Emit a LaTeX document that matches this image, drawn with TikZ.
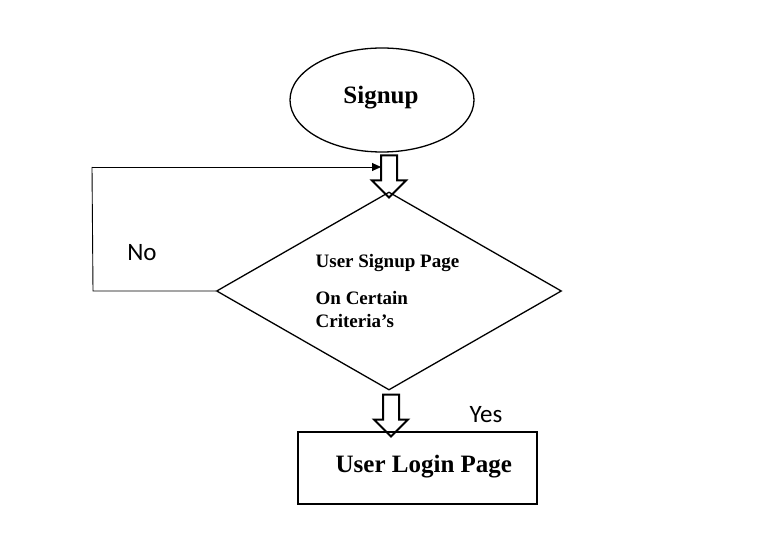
\documentclass[tikz,border=0pt]{standalone}
\usepackage{fontspec}
\setmainfont{Liberation Serif}
\newfontfamily\calibri{Carlito}
\usetikzlibrary{positioning,arrows.meta,shapes.geometric,shapes.arrows}

\begin{document}
\begin{tikzpicture}[
  x=1pt, y=-1pt,
  line width=1.3pt,
  start/.style={draw, ellipse, minimum width=184, minimum height=104},
  decision/.style={draw, diamond, minimum width=345, minimum height=198, inner sep=0pt},
  page/.style={draw, rectangle, minimum width=239, minimum height=72},
  bigtext/.style={font=\fontsize{25}{30}\selectfont\bfseries, inner sep=0pt},
  smalltext/.style={font=\fontsize{19}{23}\selectfont\bfseries, align=left, inner sep=0pt},
  blockarrow/.style={draw, single arrow, line width=2pt, shape border rotate=270, minimum height=42, minimum width=32, single arrow head extend=9, single arrow head indent=0pt, inner sep=7pt},
  label/.style={font=\calibri\fontsize{25}{30}\selectfont},
  arrow/.style={-{Triangle[length=9pt, width=8pt]}, line width=0.9pt}]
\useasboundingbox (0,0) rectangle (776,553);
\node[start] (signup) at (382,100) {};
\node[bigtext, anchor=base] (signuptext) at (381,104) {Signup};
\node[decision] (check) at (389,291) {};
\node[page] (login) at (417.5,468) {};
\node[bigtext, anchor=north west] (logintext) at (335,455) {User Login Page};
\node[smalltext, anchor=north west] (rule) at (315,254) {User Signup Page};
\node[smalltext, anchor=north west] (criteria) at (315,291) {On Certain\\Criteria’s};
\node[blockarrow] (down1) at (389,172.5) {};
\node[blockarrow] (down2) at (391,411.5) {};
\node[label] (no) at (142,253) {No};
\node[label] (yes) at (486,415) {Yes};
% loop back when criteria fail
\coordinate (c1) at (93,291);
\coordinate (c2) at (92,167);
\coordinate (c3) at (381,167);
\draw[line width=0.9pt] (check.west) -- (c1) -- (c2);
\draw[arrow] (c2) -- (c3);
\end{tikzpicture}
\end{document}
